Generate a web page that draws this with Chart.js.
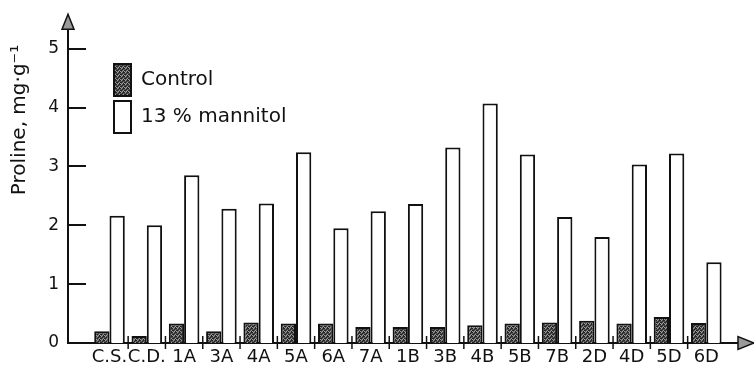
<!DOCTYPE html>
<html><head><meta charset="utf-8">
<script src="https://cdn.jsdelivr.net/npm/chart.js@4.4.1/dist/chart.umd.min.js"></script>
<style>html,body{margin:0;padding:0;background:#fff;}</style>
</head><body>
<canvas id="c" width="754" height="374"></canvas>
<script>
const categories = ['C.S.','C.D.','1A','3A','4A','5A','6A','7A','1B','3B','4B','5B','7B','2D','4D','5D','6D'];
const controlValues = [0.20,0.12,0.33,0.20,0.35,0.33,0.33,0.27,0.27,0.27,0.30,0.33,0.35,0.38,0.33,0.44,0.34];
const mannitolValues = [2.16,2.00,2.85,2.28,2.37,3.24,1.95,2.24,2.36,3.32,4.07,3.20,2.14,1.80,3.03,3.22,1.37];
const yTicks = [0,1,2,3,4,5];
const seriesNames = ['Control','13 % mannitol'];
const yTitle = 'Proline, mg\u00B7g\u207B\u00B9';

const FONT = "'DejaVu Sans', sans-serif";
const INK = '#111';
const canvas = document.getElementById('c');
const ctx = canvas.getContext('2d');

function makePattern() {
  const c = document.createElement('canvas'); c.width = 4; c.height = 4;
  const g = c.getContext('2d');
  g.fillStyle = '#555555'; g.fillRect(0,0,4,4);
  g.fillStyle = '#222222';
  [[0,0],[2,1],[1,2],[3,3],[3,0],[0,2]].forEach(([a,b]) => g.fillRect(a,b,1,1));
  g.fillStyle = '#9a9a9a';
  [[1,0],[3,2],[0,3],[2,3]].forEach(([a,b]) => g.fillRect(a,b,1,1));
  return ctx.createPattern(c, 'repeat');
}
const controlFill = makePattern();

const decor = {
  id: 'decor',
  afterLayout(chart) {
    const lg = chart.legend;
    if (lg) { lg.left += 41; lg.right += 41; lg.top += 59; lg.bottom += 59; }
  },
  afterDraw(chart) {
    const {ctx: c, chartArea: a, scales: {x, y}} = chart;
    c.save();
    c.strokeStyle = INK;
    c.lineWidth = 2;
    yTicks.forEach(v => {
      if (v === 0) return;
      const py = Math.round(y.getPixelForValue(v));
      c.beginPath(); c.moveTo(a.left, py); c.lineTo(a.left + 18, py); c.stroke();
    });
    c.lineWidth = 1.5;
    for (let k = 1; k < categories.length; k++) {
      const px = x.getPixelForValue(k - 0.5);
      c.beginPath(); c.moveTo(px, a.bottom - 7); c.lineTo(px, a.bottom + 6); c.stroke();
    }
    c.fillStyle = '#9a9a9a';
    c.lineWidth = 1.5;
    c.beginPath();
    c.moveTo(a.left, a.top - 5); c.lineTo(a.left + 6, a.top + 10); c.lineTo(a.left - 6, a.top + 10);
    c.closePath(); c.fill(); c.stroke();
    c.beginPath();
    c.moveTo(a.right + 12, a.bottom); c.lineTo(a.right - 4, a.bottom - 6.5); c.lineTo(a.right - 4, a.bottom + 6.5);
    c.closePath(); c.fill(); c.stroke();
    c.translate(25, 120);
    c.rotate(-Math.PI / 2);
    c.fillStyle = INK;
    c.font = '20px ' + FONT;
    c.textAlign = 'center';
    c.textBaseline = 'alphabetic';
    c.fillText(yTitle, 0, 0);
    c.restore();
  }
};

new Chart(ctx, {
  type: 'bar',
  data: {
    datasets: [
      { label: seriesNames[0], data: controlValues.map((v, i) => ({x: i, y: v})),
        backgroundColor: controlFill, borderColor: INK, borderWidth: 2 },
      { label: seriesNames[1], data: mannitolValues.map((v, i) => ({x: i, y: v})),
        backgroundColor: '#ffffff', borderColor: INK, borderWidth: 2 }
    ]
  },
  options: {
    responsive: false,
    animation: false,
    devicePixelRatio: 1,
    layout: { padding: { left: 0, right: 12, top: 17, bottom: 0 } },
    datasets: { bar: { categoryPercentage: 0.82, barPercentage: 1 } },
    scales: {
      x: {
        type: 'linear', min: -1.1126, max: 16.957, offset: false,
        grid: { display: false, drawTicks: false },
        border: { display: true, color: INK, width: 2 },
        afterBuildTicks: s => { s.ticks = categories.map((_, i) => ({value: i})); },
        ticks: { autoSkip: false, maxRotation: 0, padding: 4, color: INK,
          font: { family: FONT, size: 18 },
          callback: v => (Number.isInteger(v) && categories[v] !== undefined) ? categories[v] : '' },
        afterFit: s => { s.height = 31; }
      },
      y: {
        min: 0, max: 5.5,
        grid: { display: false, drawTicks: false },
        border: { display: true, color: INK, width: 2 },
        afterBuildTicks: s => { s.ticks = yTicks.map(v => ({value: v})); },
        ticks: { padding: 9, color: INK, font: { family: FONT, size: 17 } },
        afterFit: s => { s.width = 68; }
      }
    },
    plugins: {
      legend: {
        position: 'chartArea', align: 'start',
        labels: { boxWidth: 17, boxHeight: 32, padding: 5, color: INK,
          font: { family: FONT, size: 20 } }
      },
      tooltip: { enabled: false }
    }
  },
  plugins: [decor]
});
</script>
</body></html>
